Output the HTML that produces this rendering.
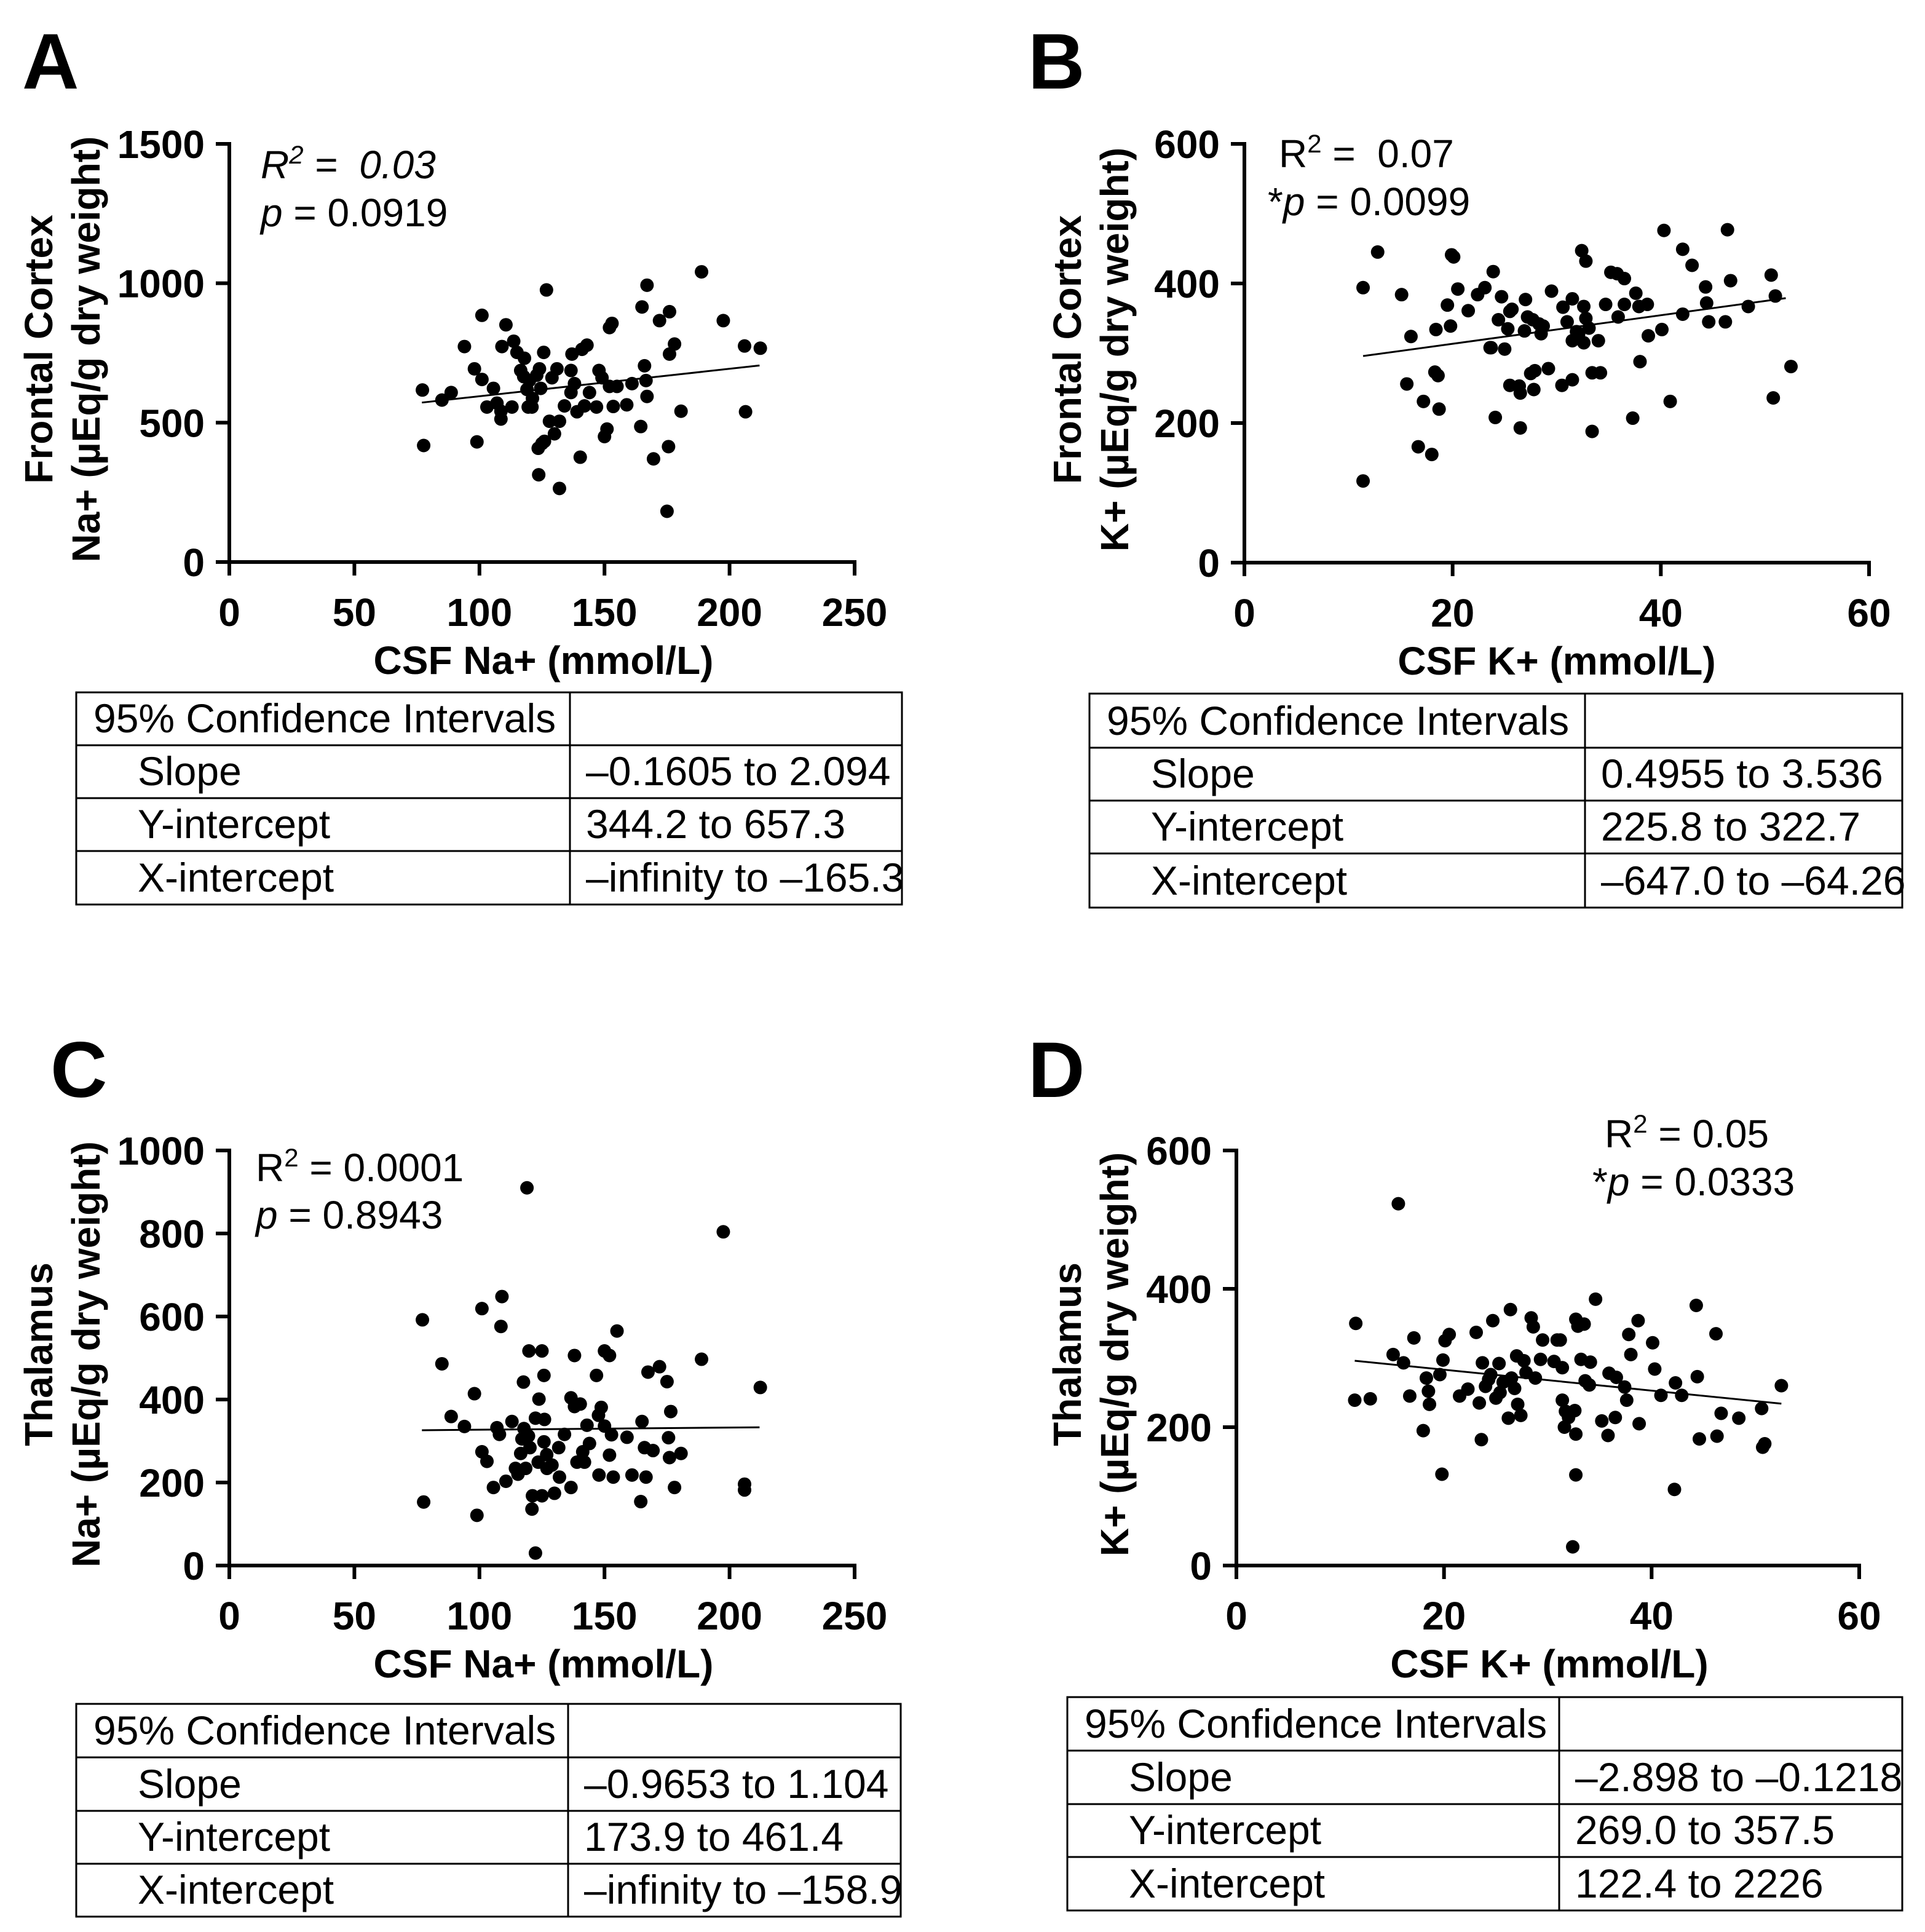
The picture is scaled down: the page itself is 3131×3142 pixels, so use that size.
<!DOCTYPE html>
<html><head><meta charset="utf-8"><style>
html,body{margin:0;padding:0;background:#fff;}
svg{display:block;font-family:"Liberation Sans",Arial,sans-serif;}
</style></head><body>
<svg id="fig" width="3131" height="3142" viewBox="0 0 3131 3142" xmlns="http://www.w3.org/2000/svg">
<rect width="3131" height="3142" fill="#fff"/>
<g id="root"></g>
</svg>
<script>
// ---- Panel A data: CSF Na+ vs Frontal Cortex Na+
const aX = [77.2,77.7,85,88.7,94,98,99,101,101,105.6,103,107,108.6,108.6,109,110.6,113.7,115,116.5,113,117.7,118,119,119.5,120,121.2,121,122.9,124,124.5,125.7,126.8,123.5,125,126,123.7,132,128,132,130,129,131,134,136.6,136.6,137,138,139,140.3,141,143,142,144,146.8,147.8,149,150,151,152,153,152,153.5,155,158.9,161,164.5,165,166,166.6,167,167,169.6,172,175.6,175,176,176,178,180.6,188.8,197.5,206,206.4,212.3];
const aY = [617,418,581,608,773,693,431,885,655,623,556,570,541,513,773,851,792,752,687,556,665,731,619,556,651,587,556,670,693,623,752,976,408,425,433,313,264,505,505,460,661,693,560,687,608,746,640,539,376,763,778,560,608,556,687,661,450,477,841,856,630,558,630,564,640,486,915,704,651,993,594,370,866,414,182,746,898,782,541,1041,866,775,539,767];
const aFitX = [77,212];
const aFitY = [572,705];
const aXTicks = [0,50,100,150,200,250];
const aYTicks = [0,500,1000,1500];
// ---- Panel B data: CSF K+ vs Frontal Cortex K+
const bX = [11.4,11.4,12.8,15.1,15.6,16.0,16.7,17.2,18.0,18.4,18.3,18.6,18.7,19.5,19.8,19.9,20.1,20.5,21.5,22.4,23.1,23.6,23.9,23.7,24.1,24.4,24.7,25.0,25.3,25.5,25.5,25.7,26.4,26.5,26.5,26.9,27.0,27.2,27.5,27.7,27.8,27.9,28.3,28.5,28.7,29.2,29.5,30.5,30.6,31,31.5,31.5,31.5,31.9,32.1,32.4,32.6,32.6,32.8,32.8,33.1,33.4,33.4,34,34.2,34.7,35.2,35.8,35.9,36.5,36.5,37.3,37.6,37.9,38,38.7,38.8,40.1,40.3,40.9,42.1,42.1,43,44.3,44.4,44.6,46.2,46.4,46.7,48.4,50.6,50.8,51,52.5];
const bY = [117,394,445,384,256,324,166,231,155,334,273,268,220,369,339,441,438,392,361,384,394,308,417,308,208,348,381,306,335,360,254,363,253,243,193,332,377,352,271,348,248,275,342,328,339,278,389,254,366,345,262,378,318,331,327,447,367,315,432,350,336,272,188,318,272,370,416,414,352,407,370,207,386,367,288,370,325,334,476,231,449,356,426,395,372,345,345,477,404,367,412,236,382,281];
const bFitX = [11.4,52];
const bFitY = [296,379];
const bXTicks = [0,20,40,60];
const bYTicks = [0,200,400,600];
// ---- Panel C data: CSF Na+ vs Thalamus Na+
const cX = [77.2,77.7,85,88.7,94,98,99,101,101,103,105.6,107,108,108.6,109,110.6,113,114.4,115.4,116.5,117,117.6,117.8,118.5,119,119.6,119.8,120.2,121,121.2,122.4,122.4,123.5,123.8,125,125,125.8,125.8,126,126.9,127,129,130,131.7,132,134,136.6,136.6,138,138,139,140.3,141.3,142,143,144,146.8,147.8,147.6,148.7,150,150,152,152,152.8,153.5,155,159,161,164.5,165,166,166.6,167.4,169.4,172,175,175.6,176,176.5,178,180.6,188.8,197.5,206,206,212.3];
const cY = [592,153,486,359,335,414,121,619,274,251,188,332,316,576,648,203,347,234,220,270,305,442,330,234,910,312,517,284,136,168,30,355,249,401,517,168,458,298,352,267,234,242,174,284,213,316,188,404,506,383,249,389,274,249,338,294,458,218,362,381,336,517,506,266,315,213,565,309,218,154,347,284,213,466,277,479,443,308,260,371,188,270,497,804,196,182,429];
const cFitX = [77,212];
const cFitY = [326,333];
const cXTicks = [0,50,100,150,200,250];
const cYTicks = [0,200,400,600,800,1000];
// ---- Panel D data: CSF K+ vs Thalamus K+
const dX = [11.5,11.4,12.9,15.1,15.6,16.1,16.7,17.1,18,18.3,18.5,18.6,19.6,19.9,19.8,20.1,20.5,21.5,22.3,23.1,23.4,23.6,23.7,24,24.3,24.5,24.7,25,25.3,25.4,25.7,26.2,26.4,26.5,26.8,27,27.1,27.4,27.7,27.9,28.4,28.6,28.8,29.3,29.5,30.6,30.9,31.2,31.4,31.4,31.6,31.7,32,32.4,32.6,32.7,32.7,32.7,32.9,33.2,33.5,33.6,34,34.1,34.6,35.2,35.8,35.9,36.5,36.6,37.4,37.6,37.8,38,38.7,38.8,40.1,40.3,40.9,42.2,42.3,42.9,44.3,44.4,44.6,46.2,46.3,46.7,48.4,50.6,50.7,50.9,52.5];
const dY = [350,239,241,305,523,293,245,329,195,271,252,233,276,297,132,325,334,245,255,337,235,182,293,259,269,276,354,242,292,250,265,213,370,271,256,303,233,217,296,279,358,345,271,298,326,295,326,326,286,239,200,223,214,27,224,356,190,131,346,298,349,267,261,294,385,209,188,278,214,272,258,239,334,305,354,205,322,284,246,110,264,246,376,273,183,335,187,220,213,227,171,176,260];
const dFitX = [11.4,52.5];
const dFitY = [296,234];
const dXTicks = [0,20,40,60];
const dYTicks = [0,200,400,600];

const NS = "http://www.w3.org/2000/svg";
const root = document.getElementById('root');
function mk(tag, attrs, parent, txt){
  const e = document.createElementNS(NS, tag);
  for (const k in attrs) e.setAttribute(k, attrs[k]);
  if (txt !== undefined) e.textContent = txt;
  (parent||root).appendChild(e);
  return e;
}

function panel(cfg){
  const g = mk('g', {});
  
  
  const sx = v => cfg.x0 + (v - cfg.xmin) / (cfg.xmax - cfg.xmin) * (cfg.x1 - cfg.x0);
  const sy = v => cfg.y0 - v / cfg.ymax * (cfg.y0 - cfg.y1);
  const L = mk('text', {x: cfg.lx, y: cfg.ly, 'font-size': 128, 'font-weight': 'bold'}, g, cfg.id.toUpperCase());
  
  
  const ax = mk('path', {d: `M${cfg.x0},${cfg.y1} L${cfg.x0},${cfg.y0} L${cfg.x1},${cfg.y0}`, fill: 'none', stroke: '#000', 'stroke-width': 6, 'stroke-linecap': 'square'}, g);
  
  
  cfg.yTicks.forEach(t => {
    const y = sy(t);
    const tk = mk('line', {x1: cfg.x0 - 22, x2: cfg.x0, y1: y, y2: y, stroke: '#000', 'stroke-width': 6}, g);
    
    
    const tl = mk('text', {x: cfg.x0 - 40, y: y + 23, 'text-anchor': 'end', 'font-size': 64, 'font-weight': 'bold'}, g, String(t));
    
    
  });
  cfg.xTicks.forEach(t => {
    const x = sx(t);
    const tk = mk('line', {x1: x, x2: x, y1: cfg.y0, y2: cfg.y0 + 22, stroke: '#000', 'stroke-width': 6}, g);
    
    
    const tl = mk('text', {x: x, y: cfg.y0 + 104, 'text-anchor': 'middle', 'font-size': 64, 'font-weight': 'bold'}, g, String(t));
    
    
  });
  const xt = mk('text', {x: cfg.xtx, y: cfg.y0 + 182, 'text-anchor': 'middle', 'font-size': 64, 'font-weight': 'bold'}, g, cfg.xTitle);
  
  
  const ymid = (cfg.y0 + cfg.y1) / 2 - 6;
  cfg.yTitle.forEach((line, i) => {
    const bx = cfg.ytx + i * 77;
    const yt = mk('text', {x: 0, y: 0, transform: `translate(${bx},${ymid}) rotate(-90)`, 'text-anchor': 'middle', 'font-size': 64, 'font-weight': 'bold'}, g, line);
    
    
  });
  cfg.xs.forEach((xv, i) => {
    const c = mk('circle', {cx: sx(xv), cy: sy(cfg.ys[i]), r: 11, fill: '#000'}, g);
    
    
  });
  const fl = mk('line', {x1: sx(cfg.fx[0]), y1: sy(cfg.fy[0]), x2: sx(cfg.fx[1]), y2: sy(cfg.fy[1]), stroke: '#000', 'stroke-width': 3}, g);
  
  
  const a1 = mk('text', {x: cfg.ann[0], y: cfg.ann[1], 'font-size': 64}, g);
  
  
  const st = cfg.rItal ? 'italic' : 'normal';
  mk('tspan', {'font-style': st}, a1, 'R');
  mk('tspan', {'font-size': 42, dy: -24, 'font-style': st}, a1, '2');
  mk('tspan', {dy: 24, 'font-style': st}, a1, cfg.rText);
  const a2 = mk('text', {x: cfg.ann[2], y: cfg.ann[3], 'font-size': 64}, g);
  
  
  if (cfg.star) mk('tspan', {}, a2, '*');
  mk('tspan', {'font-style': 'italic'}, a2, 'p');
  mk('tspan', {}, a2, cfg.pText);
  const T = cfg.tab;
  const tg = mk('g', {}, g);
  
  
  mk('rect', {x: T.x0, y: T.rows[0], width: T.x1 - T.x0, height: T.rows[4] - T.rows[0], fill: 'none', stroke: '#000', 'stroke-width': 3}, tg);
  mk('line', {x1: T.xd, x2: T.xd, y1: T.rows[0], y2: T.rows[4], stroke: '#000', 'stroke-width': 3}, tg);
  for (let i = 1; i < 4; i++) mk('line', {x1: T.x0, x2: T.x1, y1: T.rows[i], y2: T.rows[i], stroke: '#000', 'stroke-width': 3}, tg);
  const labels = ['95% Confidence Intervals', 'Slope', 'Y-intercept', 'X-intercept'];
  labels.forEach((lab, i) => {
    const bl = T.rows[i + 1] - 21;
    const t1 = mk('text', {x: i === 0 ? T.x0 + 28 : T.x0 + 100, y: bl, 'font-size': 66}, tg, lab);
    
    
    if (i > 0) {
      const t2 = mk('text', {x: T.xd + 26, y: bl, 'font-size': 66}, tg, T.vals[i - 1]);
      
      
    }
  });
}

panel({id:'a', lx:36, ly:144, x0:373, x1:1390, xmin:0, xmax:250, y0:914, y1:234, ymax:1500,
  xTicks:aXTicks, yTicks:aYTicks, xs:aX, ys:aY, fx:aFitX, fy:aFitY,
  xtx:884, xTitle:'CSF Na+ (mmol/L)', ytx:85, yTitle:['Frontal Cortex','Na+ (\u00b5Eq/g dry weight)'],
  ann:[424,290,424,368], rItal:true, rText:'\u00a0=\u00a0\u00a00.03', star:false, pText:' = 0.0919',
  tab:{x0:124, x1:1467, xd:927, rows:[1126,1212,1298,1384,1471], vals:['\u20130.1605 to 2.094','344.2 to 657.3','\u2013infinity to \u2013165.3']}});
panel({id:'b', lx:1672, ly:144, x0:2024, x1:3040, xmin:0, xmax:60, y0:915, y1:234, ymax:600,
  xTicks:bXTicks, yTicks:bYTicks, xs:bX, ys:bY, fx:bFitX, fy:bFitY,
  xtx:2532, xTitle:'CSF K+ (mmol/L)', ytx:1758, yTitle:['Frontal Cortex','K+ (\u00b5Eq/g dry weight)'],
  ann:[2080,272,2062,350], rItal:false, rText:'\u00a0=\u00a0\u00a00.07', star:true, pText:' = 0.0099',
  tab:{x0:1772, x1:3094, xd:2578, rows:[1128,1216,1302,1388,1476], vals:['0.4955 to 3.536','225.8 to 322.7','\u2013647.0 to \u201364.26']}});
panel({id:'c', lx:82, ly:1784, x0:373, x1:1390, xmin:0, xmax:250, y0:2546, y1:1871, ymax:1000,
  xTicks:cXTicks, yTicks:cYTicks, xs:cX, ys:cY, fx:cFitX, fy:cFitY,
  xtx:884, xTitle:'CSF Na+ (mmol/L)', ytx:85, yTitle:['Thalamus','Na+ (\u00b5Eq/g dry weight)'],
  ann:[416,1921,416,1998], rItal:false, rText:' = 0.0001', star:false, pText:' = 0.8943',
  tab:{x0:124, x1:1465, xd:924, rows:[2771,2858,2945,3031,3117], vals:['\u20130.9653 to 1.104','173.9 to 461.4','\u2013infinity to \u2013158.9']}});
panel({id:'d', lx:1672, ly:1784, x0:2011, x1:3024, xmin:0, xmax:60, y0:2546, y1:1871, ymax:600,
  xTicks:dXTicks, yTicks:dYTicks, xs:dX, ys:dY, fx:dFitX, fy:dFitY,
  xtx:2520, xTitle:'CSF K+ (mmol/L)', ytx:1758, yTitle:['Thalamus','K+ (\u00b5Eq/g dry weight)'],
  ann:[2610,1866,2590,1944], rItal:false, rText:' = 0.05', star:true, pText:' = 0.0333',
  tab:{x0:1736, x1:3094, xd:2536, rows:[2760,2847,2934,3020,3107], vals:['\u20132.898 to \u20130.1218','269.0 to 357.5','122.4 to 2226']}});
</script>
</body></html>
